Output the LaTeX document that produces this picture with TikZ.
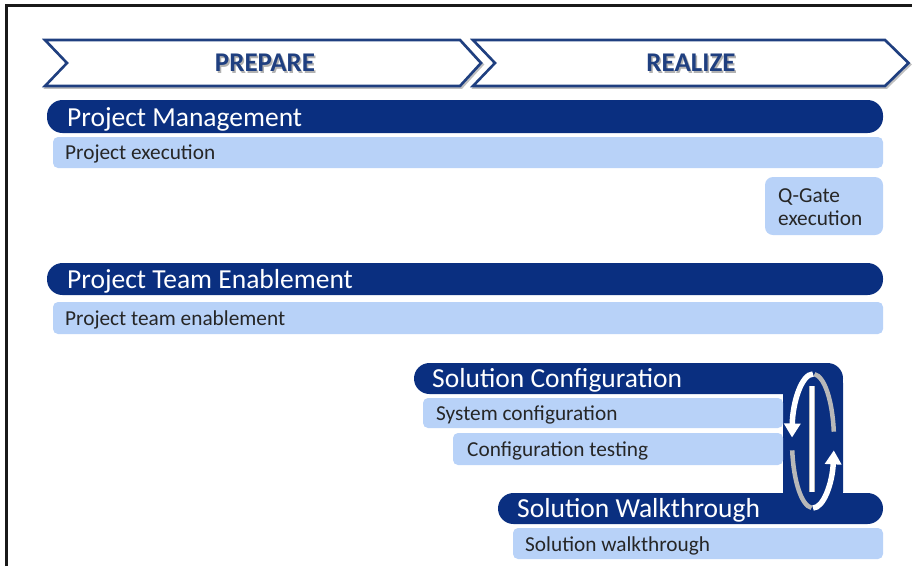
\documentclass[tikz,border=0pt]{standalone}
\usepackage{fontspec}
\setmainfont{Carlito}
\usetikzlibrary{arrows.meta}
\definecolor{navy}{HTML}{0A2F80}
\definecolor{chev}{HTML}{1F3F80}
\definecolor{lightbar}{HTML}{B8D2F8}
\definecolor{txtdark}{HTML}{262626}
\tikzset{
  x=1pt, y=1pt,
  darkbar/.style={fill=navy, rounded corners=15.5pt},
  lightbarsty/.style={fill=lightbar, rounded corners=5pt},
  chevron/.style={draw=chev, line width=2.6pt, fill=white, line join=miter},
  chevshadow/.style={draw=black!25, line width=2.6pt},
  phase/.style={font=\fontsize{27}{30}\selectfont\bfseries, text=chev, inner sep=0pt},
  phaseshadow/.style={font=\fontsize{27}{30}\selectfont\bfseries, text=black!30, inner sep=0pt},
  head/.style={font=\fontsize{27.5}{30}\selectfont, text=white, inner sep=0pt, anchor=base west},
  task/.style={font=\fontsize{21.3}{23.5}\selectfont, text=txtdark, inner sep=0pt, anchor=base west},
  ribbon/.style={draw=white, line width=5.5pt},
  backribbon/.style={draw=black!28, line width=4.5pt},
}
\begin{document}
\begin{tikzpicture}
\useasboundingbox (0,0) rectangle (912,-566);
% frame
\draw[line width=3pt, black!90] (6,-566) -- (6,-5) -- (912,-5);
% chevrons
\draw[chevshadow] (46.5,-41.5) -- (461.5,-41.5) -- (482.5,-64.5) -- (461.5,-87.5) -- (46.5,-87.5) -- (68.5,-64.5) -- cycle;
\draw[chevshadow] (474.5,-41.5) -- (886.5,-41.5) -- (910,-64.5) -- (886.5,-87.5) -- (474.5,-87.5) -- (496.5,-64.5) -- cycle;
\draw[chevron] (45,-40) -- (460,-40) -- (481,-63) -- (460,-86) -- (45,-86) -- (67,-63) -- cycle;
\draw[chevron] (473,-40) -- (885,-40) -- (908.5,-63) -- (885,-86) -- (473,-86) -- (495,-63) -- cycle;
\node[phaseshadow] (prepS) at (266.5,-64.5) {PREPARE};
\node[phase] (prep) at (265,-63) {PREPARE};
\node[phaseshadow] (realS) at (692.5,-64.5) {REALIZE};
\node[phase] (real) at (691,-63) {REALIZE};
% project management
\fill[darkbar] (47,-100) rectangle (883,-133);
\node[head] (pm) at (67,-126) {Project Management};
\fill[lightbarsty] (53,-137) rectangle (883,-168);
\node[task] (pe) at (65,-159) {Project execution};
\fill[lightbarsty, rounded corners=8pt] (765,-177) rectangle (883,-235);
\node[task] (qg1) at (778,-202) {Q-Gate};
\node[task] (qg2) at (778,-225) {execution};
% project team enablement
\fill[darkbar] (47,-263) rectangle (883,-295);
\node[head] (pte) at (67,-288) {Project Team Enablement};
\fill[lightbarsty] (53,-302) rectangle (883,-334);
\node[task] (ptel) at (65,-325) {Project team enablement};
% solution configuration / walkthrough
\fill[darkbar] (414,-363) rectangle (843,-394);
\fill[navy, rounded corners=20pt] (783,-363) rectangle (843,-512);
\fill[darkbar] (498,-493) rectangle (883,-524);
\node[head] (sc) at (432,-387) {Solution Configuration};
\node[head] (sw) at (517,-517) {Solution Walkthrough};
\fill[lightbarsty] (423,-398) rectangle (783,-428);
\node[task] (sysc) at (436,-420) {System configuration};
\fill[lightbarsty] (453,-433) rectangle (783,-465);
\node[task] (ctest) at (467,-456) {Configuration testing};
\fill[lightbarsty] (513,-528) rectangle (883,-559);
\node[task] (swl) at (525,-551) {Solution walkthrough};
% loop arrows
\coordinate (loopc) at (813,-441);
\draw[backribbon] ([shift={(loopc)}]8:21 and 67) arc[start angle=8, end angle=86, x radius=21pt, y radius=67pt];
\draw[backribbon] ([shift={(loopc)}]188:21 and 67) arc[start angle=188, end angle=266, x radius=21pt, y radius=67pt];
\draw[draw=black!28, line width=5.5pt] (812,-386) -- (812,-492);
\draw[draw=white, line width=3.5pt] (812,-386) -- (812,-492);
\draw[ribbon, -{Triangle[width=16pt,length=14pt]}] ([shift={(loopc)}]90:21 and 67) arc[start angle=90, end angle=177, x radius=21pt, y radius=67pt];
\draw[ribbon, -{Triangle[width=16pt,length=14pt]}] ([shift={(loopc)}]270:21 and 67) arc[start angle=270, end angle=352, x radius=21pt, y radius=67pt];
\end{tikzpicture}
\end{document}
